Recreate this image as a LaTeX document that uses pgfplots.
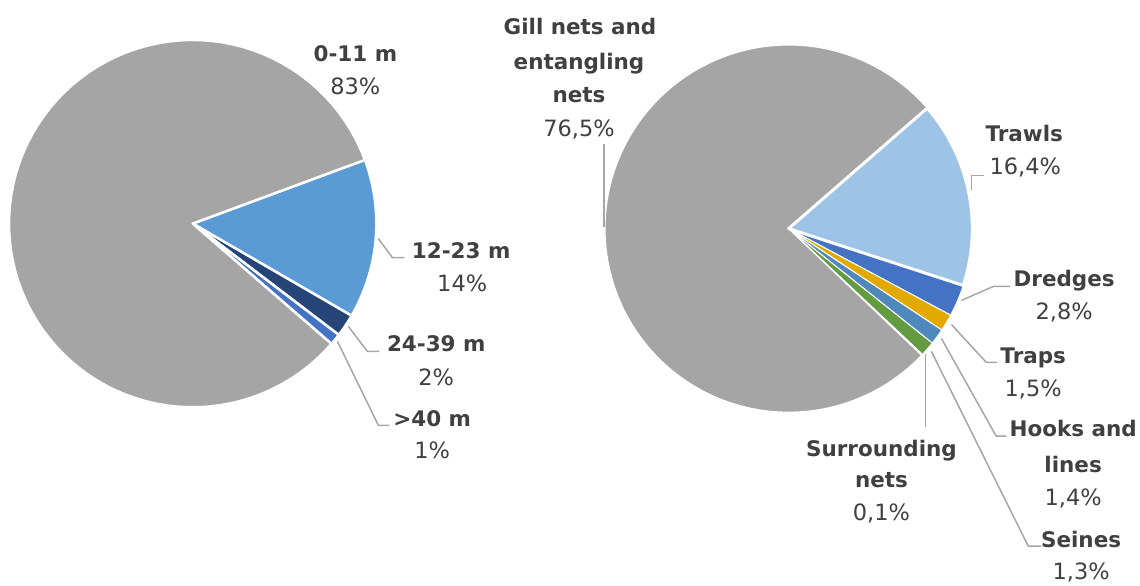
\documentclass[border=0pt]{standalone}
\usepackage{pgfplots}
\pgfplotsset{compat=1.18}
\usepackage{fontspec}
\setmainfont{DejaVu Sans}

\definecolor{piegray}{HTML}{A5A5A5}
\definecolor{blueA}{HTML}{5B9BD5}
\definecolor{navy}{HTML}{264478}
\definecolor{royal}{HTML}{4472C4}
\definecolor{lightblue}{HTML}{9DC3E6}
\definecolor{gold}{HTML}{E2AA00}
\definecolor{steel}{HTML}{4E88BC}
\definecolor{green}{HTML}{629B40}
\definecolor{txt}{HTML}{404040}
\definecolor{leader}{HTML}{A6A6A6}

% slice: cx, cy, start angle, share before (%), share (%), colour, border
\newcommand{\slice}[7]{%
  \addplot[fill=#6, draw=white, line width=#7, line join=round,
    domain={#3-3.6*(#4+#5)}:{#3-3.6*#4}, samples=90]
    ({#1+184*cos(x)}, {#2-184*sin(x)}) -- (axis cs:#1,#2) -- cycle;
}
% name (bold) and value lines, each set on its own baseline
\newcommand{\name}[3]{\node[anchor=base, text=txt, font=\fontsize{21.5}{24}\selectfont\bfseries] at (axis cs:#1,#2) {#3};}
\newcommand{\val}[3]{\node[anchor=base, text=txt, font=\fontsize{22.5}{24}\selectfont] at (axis cs:#1,#2) {#3};}

\begin{document}
\begin{tikzpicture}
\begin{axis}[
  width=1140pt, height=586pt, scale only axis,
  xmin=0, xmax=1140, ymin=0, ymax=586, y dir=reverse,
  hide axis, clip=false,
  every axis plot/.append style={no marks},
  leaderline/.style={draw=leader, line width=1.5pt, no marks},
]
\path (rel axis cs:0,0) rectangle (rel axis cs:1,1);

% vessel length: 12-23, 24-39, >40, 0-11 (clockwise from 20.3 deg)
\slice{193}{224}{20.3}{0}{14}{blueA}{2.5pt}
\slice{193}{224}{20.3}{14}{2}{navy}{2.5pt}
\slice{193}{224}{20.3}{16}{1}{royal}{2.5pt}
\slice{193}{224}{20.3}{17}{83}{piegray}{2.5pt}

% gear: trawls, dredges, traps, hooks, seines, surrounding, gill nets
\slice{790}{229}{41}{16.4}{2.8}{royal}{1pt}
\slice{790}{229}{41}{19.2}{1.5}{gold}{1pt}
\slice{790}{229}{41}{20.7}{1.4}{steel}{1pt}
\slice{790}{229}{41}{22.1}{1.3}{green}{1pt}
\slice{790}{229}{41}{23.4}{0.1}{navy}{1pt}
\slice{790}{229}{41}{23.5}{76.5}{piegray}{1.2pt}
\slice{790}{229}{41}{0}{16.4}{lightblue}{3pt}

% leader lines
\addplot[leaderline] coordinates {(379,239) (393,258) (405,258)};
\addplot[leaderline] coordinates {(349,327) (368,352) (380,352)};
\addplot[leaderline] coordinates {(338,342) (379,426) (390,426)};
\addplot[leaderline] coordinates {(605,227) (605,144)};
\addplot[leaderline] coordinates {(973,190) (973,176) (986,176)};
\addplot[leaderline] coordinates {(963,301) (995,287) (1012,287)};
\addplot[leaderline] coordinates {(953,325) (988,363) (999,363)};
\addplot[leaderline] coordinates {(943,339) (998,437) (1008,437)};
\addplot[leaderline] coordinates {(933,352) (1030,547) (1043,547)};
\addplot[leaderline] coordinates {(927,355) (927,428)};

% labels
\name{356}{62}{0-11 m}
\val{356}{95}{83\%}
\name{462}{259}{12-23 m}
\val{463}{292}{14\%}
\name{437}{352}{24-39 m}
\val{437}{386}{2\%}
\name{433}{427}{>40 m}
\val{433}{459}{1\%}

\name{581}{35}{Gill nets and}
\name{580}{70}{entangling}
\name{580}{103}{nets}
\val{580}{137}{76,5\%}
\name{1026}{142}{Trawls}
\val{1027}{175}{16,4\%}
\name{1066}{287}{Dredges}
\val{1066}{320}{2,8\%}
\name{1035}{364}{Traps}
\val{1035}{397}{1,5\%}
\name{1075}{437}{Hooks and}
\name{1075}{473}{lines}
\val{1075}{506}{1,4\%}
\name{1083}{548}{Seines}
\val{1083}{581}{1,3\%}
\name{883}{457}{Surrounding}
\name{883}{488}{nets}
\val{883}{521}{0,1\%}
\end{axis}
\end{tikzpicture}
\end{document}
